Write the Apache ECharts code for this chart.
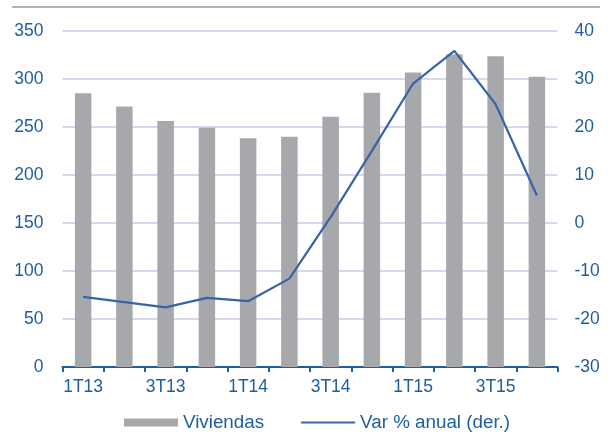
<!DOCTYPE html>
<html>
<head>
<meta charset="utf-8">
<script src="https://cdn.jsdelivr.net/npm/echarts@6/dist/echarts.min.js"></script>
<style>html,body{margin:0;padding:0;background:#fff}#c{width:611px;height:432px}</style>
</head>
<body>
<div id="c"></div>
<script>
const categories = ['1T13','2T13','3T13','4T13','1T14','2T14','3T14','4T14','1T15','2T15','3T15','4T15'];
const viviendas = [285, 271, 256, 249, 238, 239.5, 260.5, 285.5, 306.5, 325.5, 323.5, 302];
const varAnual = [-15.4, -16.5, -17.6, -15.6, -16.3, -11.6, 1.2, 15, 29, 35.8, 24.7, 5.7];
const leftTicks = {min: 0, max: 350, interval: 50};
const rightTicks = {min: -30, max: 40, interval: 10};

const blue = '#1f5d9e';
const fs = 17.5;
const chart = echarts.init(document.getElementById('c'));
chart.setOption({
  animation: false,
  textStyle: {fontFamily: 'Liberation Sans, Arial, sans-serif'},
  graphic: [{type: 'line', shape: {x1: 12, y1: 7, x2: 600, y2: 7}, style: {stroke: '#9a9a9a', lineWidth: 1.5}}],
  grid: {left: 62.5, right: 53.5, top: 30.7, bottom: 65},
  legend: {
    bottom: 0, left: 124, padding: 0, itemWidth: 54, itemHeight: 8, itemGap: 36,
    textStyle: {color: blue, fontSize: 18.8, fontFamily: 'Liberation Sans, Arial, sans-serif'},
    data: [
      {name: 'Viviendas', icon: 'rect'},
      {name: 'Var % anual (der.)', itemStyle: {opacity: 0}}
    ]
  },
  xAxis: {
    type: 'category', data: categories, boundaryGap: true,
    axisLine: {lineStyle: {color: blue, width: 2}},
    axisTick: {show: true, alignWithLabel: false, length: 5, lineStyle: {color: blue, width: 2}, interval: 0},
    axisLabel: {color: blue, fontSize: fs, interval: 1, margin: 11}
  },
  yAxis: [
    {type: 'value', min: leftTicks.min, max: leftTicks.max, interval: leftTicks.interval,
     axisLine: {show: false}, axisTick: {show: false},
     axisLabel: {color: blue, fontSize: fs, margin: 19},
     splitLine: {lineStyle: {color: '#c7cdea', width: 1.5}}},
    {type: 'value', min: rightTicks.min, max: rightTicks.max, interval: rightTicks.interval,
     position: 'right',
     axisLine: {show: false}, axisTick: {show: false},
     axisLabel: {color: blue, fontSize: fs, margin: 17},
     splitLine: {show: false}}
  ],
  series: [
    {name: 'Viviendas', type: 'bar', data: viviendas, barWidth: '40%', yAxisIndex: 0,
     itemStyle: {color: '#a7a8ac'}},
    {name: 'Var % anual (der.)', type: 'line', data: varAnual, yAxisIndex: 1,
     symbol: 'none', lineStyle: {color: '#3863a8', width: 2.2}, itemStyle: {color: '#3863a8'}}
  ]
});
</script>
</body>
</html>
